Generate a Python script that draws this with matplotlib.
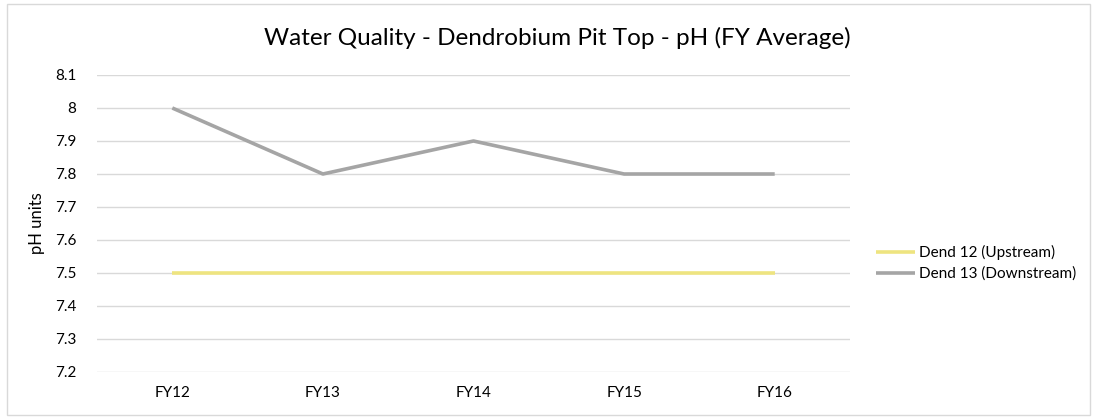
import matplotlib
matplotlib.use("Agg")
import matplotlib.pyplot as plt
from matplotlib.patches import Rectangle

categories = ["FY12", "FY13", "FY14", "FY15", "FY16"]
dend12 = [7.5, 7.5, 7.5, 7.5, 7.5]
dend13 = [8.0, 7.8, 7.9, 7.8, 7.8]
yticks = [7.2, 7.3, 7.4, 7.5, 7.6, 7.7, 7.8, 7.9, 8.0, 8.1]
ytick_labels = ["7.2", "7.3", "7.4", "7.5", "7.6", "7.7", "7.8", "7.9", "8", "8.1"]

plt.rcParams['font.family'] = ['Lato', 'DejaVu Sans']

W, H = 1096, 417
fig = plt.figure(figsize=(W/100, H/100), dpi=100)
ax = fig.add_axes([97/W, 1 - 372/H, (850-97)/W, (372-75)/H])

x = list(range(len(categories)))
ax.plot(x, dend12, color="#EEE480", lw=2.6, label="Dend 12 (Upstream)", solid_capstyle="butt")
ax.plot(x, dend13, color="#A5A5A5", lw=2.6, label="Dend 13 (Downstream)", solid_capstyle="butt")

ax.set_xlim(-0.5, len(categories) - 0.5)
ax.set_ylim(7.2, 8.1)
ax.set_yticks(yticks)
ax.set_yticklabels(ytick_labels)
ax.set_xticks(x)
ax.set_xticklabels(categories)
ax.yaxis.grid(True, color="#D9D9D9", lw=1)
ax.set_axisbelow(True)
for s in ax.spines.values():
    s.set_visible(False)
ax.tick_params(axis="both", length=0, labelsize=11, colors="#000000")
ax.tick_params(axis="y", pad=15)
ax.tick_params(axis="x", pad=10)
ax.set_ylabel("pH units", fontsize=12, labelpad=7)

fig.text(557/W, 1 - 38/H, "Water Quality - Dendrobium Pit Top - pH (FY Average)",
         ha="center", va="center", fontsize=17.5)

leg = ax.legend(loc="center left", bbox_to_anchor=(862/W, 1 - 263/H),
                bbox_transform=fig.transFigure, frameon=False, fontsize=11,
                handlelength=2.6, handletextpad=0.2, labelspacing=0.45)

fig.patches.append(Rectangle((7/W, 2/H), (1090-7)/W, (413-2)/H, transform=fig.transFigure,
                             fill=False, edgecolor="#D9D9D9", lw=1))

fig.savefig("out.png", dpi=100)
